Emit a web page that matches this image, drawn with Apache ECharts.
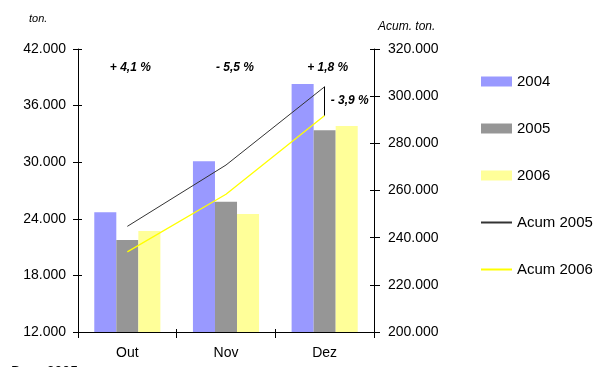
<!DOCTYPE html>
<html>
<head>
<meta charset="utf-8">
<script src="https://cdn.jsdelivr.net/npm/echarts@6/dist/echarts.min.js"></script>
<style>
  html, body { margin: 0; padding: 0; background: #fff; }
  #chart { width: 595px; height: 367px; }
</style>
</head>
<body>
<div id="chart"></div>
<script>
// Monthly tonnage by year and year-to-date accumulation
const categories = ['Out', 'Nov', 'Dez'];
const v2004 = [24700, 30100, 38300];
const v2005 = [21750, 25800, 33400];
const v2006 = [22700, 24500, 33850];
const acum2005 = [244800, 270800, 304000];
const acum2006 = [234000, 258400, 291800];

// Axis ranges
const leftMin = 12000, leftMax = 42000, leftStep = 6000;
const rightMin = 200000, rightMax = 320000, rightStep = 20000;

// Year-over-year change texts (2006 vs 2005)
const monthChange = ['+ 4,1 %', '- 5,5 %', '+ 1,8 %'];
const monthChangeShift = [3, 9, 3];
const acumChange = '- 3,9 %';

const FONT = 'Liberation Sans, Arial, sans-serif';
const fmt = v => String(v).replace(/\B(?=(\d{3})+(?!\d))/g, '.');

const chart = echarts.init(document.getElementById('chart'), null, { renderer: 'canvas' });

const gridBox = { left: 78, right: 221, top: 49, bottom: 35 };

function valueAxis(pos, min, max, step, withLabels, inside, len) {
  return {
    type: 'value', position: pos, min: min, max: max, interval: step,
    splitLine: { show: false },
    axisLine: { show: withLabels, lineStyle: { color: '#000', width: 1 } },
    axisTick: { show: true, inside: inside, length: len, lineStyle: { color: '#000', width: 1 } },
    axisLabel: {
      show: withLabels, formatter: fmt, color: '#000',
      fontFamily: FONT, fontSize: 14, margin: pos === 'left' ? 12 : 14
    }
  };
}

const hiddenSymbol = { opacity: 0 };

const option = {
  animation: false,
  backgroundColor: '#fff',
  grid: gridBox,
  xAxis: [{
    type: 'category', data: categories,
    axisLine: { lineStyle: { color: '#000', width: 1 } },
    axisTick: { show: true, length: 6, lineStyle: { color: '#000' } },
    axisLabel: { color: '#000', fontFamily: FONT, fontSize: 14, margin: 14 }
  }, {
    type: 'category', data: categories, position: 'bottom',
    axisLine: { show: false },
    axisTick: { show: true, inside: true, length: 3, lineStyle: { color: '#000' } },
    axisLabel: { show: false }
  }],
  yAxis: [
    valueAxis('left', leftMin, leftMax, leftStep, true, false, 5),
    valueAxis('right', rightMin, rightMax, rightStep, true, false, 6),
    valueAxis('left', leftMin, leftMax, leftStep, false, true, 4),
    valueAxis('right', rightMin, rightMax, rightStep, false, true, 4)
  ],
  legend: {
    orient: 'vertical', left: 480, top: 74, padding: 0,
    itemWidth: 31, itemHeight: 10, itemGap: 32,
    textStyle: { fontFamily: FONT, fontSize: 15, color: '#000', lineHeight: 15 },
    data: [
      { name: '2004', icon: 'rect' },
      { name: '2005', icon: 'rect' },
      { name: '2006', icon: 'rect' },
      { name: 'Acum 2005', itemStyle: hiddenSymbol },
      { name: 'Acum 2006', itemStyle: hiddenSymbol }
    ]
  },
  series: [
    { name: '2004', type: 'bar', data: v2004, barGap: '0%', barCategoryGap: '33%',
      itemStyle: { color: '#9999FF' } },
    { name: '2005', type: 'bar', data: v2005, itemStyle: { color: '#969696' } },
    { name: '2006', type: 'bar', data: v2006, itemStyle: { color: '#FFFF99' } },
    { name: 'Acum 2005', type: 'line', yAxisIndex: 1, data: acum2005, symbol: 'none',
      lineStyle: { color: '#333333', width: 1 }, itemStyle: { color: '#333333' },
      markLine: {
        silent: true, symbol: ['none', 'arrow'], symbolSize: [0, 9],
        lineStyle: { color: '#000', width: 1, type: 'solid' },
        label: { show: false },
        data: [[{ coord: [2, acum2005[2]] }, { coord: [2, acum2006[2]] }]]
      } },
    { name: 'Acum 2006', type: 'line', yAxisIndex: 1, data: acum2006, symbol: 'none',
      lineStyle: { color: '#FFFF00', width: 1.3 }, itemStyle: { color: '#FFFF00' } }
  ]
};

chart.setOption(option);

// Annotations placed relative to the axes
const labelStyle = { fontFamily: FONT, fontSize: 12, fontWeight: 'bold', fontStyle: 'italic', fill: '#000' };
const graphics = [
  { type: 'text', left: 29, top: 13, style: { text: 'ton.', fontFamily: FONT, fontSize: 11, fontStyle: 'italic', fill: '#000' } },
  { type: 'text', left: 378, top: 21, style: { text: 'Acum. ton.', fontFamily: FONT, fontSize: 12, fontStyle: 'italic', fill: '#000' } },
  { type: 'text', left: 11, top: 365, style: { text: 'Base 2005', fontFamily: FONT, fontSize: 14, fill: '#000' } }
];
categories.forEach((c, i) => {
  const x = chart.convertToPixel({ xAxisIndex: 0 }, c) + monthChangeShift[i];
  graphics.push({ type: 'text', x: x, y: 68,
    style: Object.assign({ text: monthChange[i], align: 'center', verticalAlign: 'middle' }, labelStyle) });
});
const xd = chart.convertToPixel({ xAxisIndex: 0 }, categories[2]);
const ya = chart.convertToPixel({ yAxisIndex: 1 }, acum2005[2]);
const yb = chart.convertToPixel({ yAxisIndex: 1 }, acum2006[2]);
graphics.push({ type: 'text', x: xd + 6, y: (ya + yb) / 2,
  style: Object.assign({ text: acumChange, align: 'left', verticalAlign: 'middle' }, labelStyle) });
chart.setOption({ graphic: graphics });
</script>
</body>
</html>
